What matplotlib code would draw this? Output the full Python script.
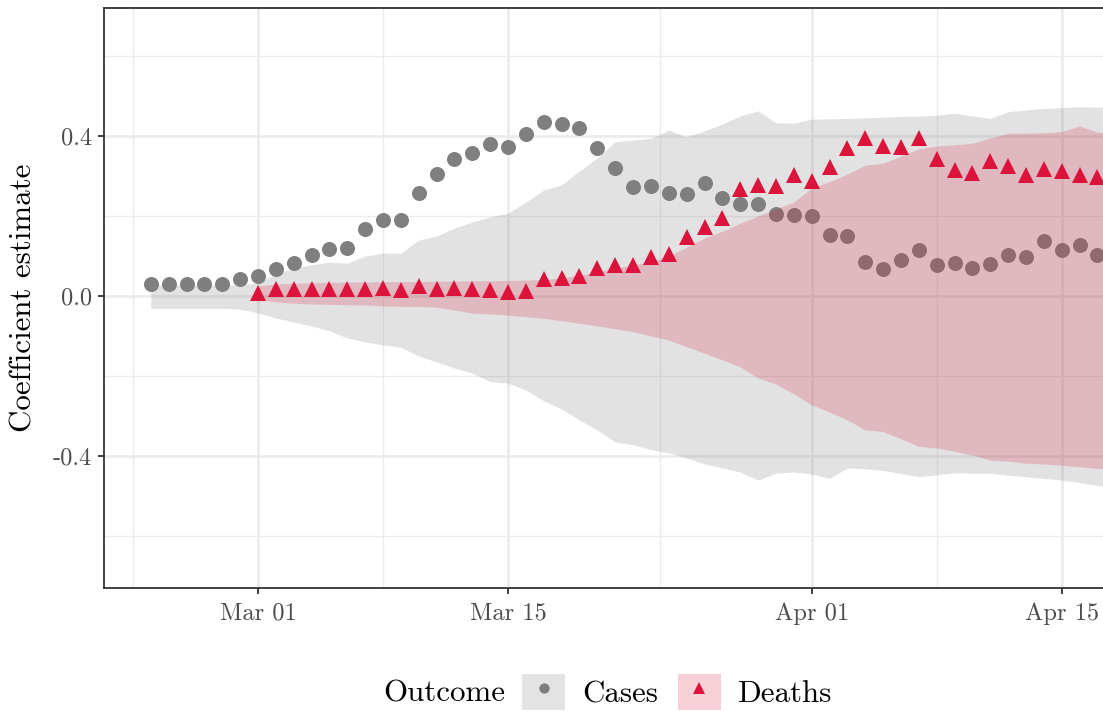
import numpy as np
import matplotlib
matplotlib.use("Agg")
import matplotlib.pyplot as plt
import matplotlib.dates as mdates
from matplotlib.patches import Patch
from matplotlib.lines import Line2D

plt.rcParams['font.family'] = ['cmr10', 'DejaVu Serif']
plt.rcParams['axes.unicode_minus'] = False

# daily estimates, Feb 24 - Apr 17 (cases) and Mar 01 - Apr 17 (deaths)
case_days = np.arange('2020-02-24', '2020-04-18', dtype='datetime64[D]')
death_days = np.arange('2020-03-01', '2020-04-18', dtype='datetime64[D]')
# bands run one day past the visible edge
case_band_days = np.arange('2020-02-24', '2020-04-19', dtype='datetime64[D]')
death_band_days = np.arange('2020-03-01', '2020-04-19', dtype='datetime64[D]')

cases = [0.029, 0.029, 0.029, 0.029, 0.029, 0.043, 0.050, 0.067, 0.083, 0.102,
         0.117, 0.119, 0.167, 0.190, 0.190, 0.257, 0.306, 0.342, 0.358, 0.379,
         0.373, 0.404, 0.435, 0.429, 0.419, 0.369, 0.320, 0.273, 0.275, 0.258,
         0.256, 0.282, 0.244, 0.231, 0.231, 0.206, 0.202, 0.199, 0.153, 0.149,
         0.084, 0.068, 0.091, 0.114, 0.078, 0.083, 0.069, 0.080, 0.102, 0.098,
         0.138, 0.115, 0.127, 0.103]
deaths = [0.008, 0.017, 0.017, 0.017, 0.017, 0.017, 0.017, 0.019, 0.015, 0.024,
          0.018, 0.021, 0.017, 0.016, 0.011, 0.013, 0.042, 0.044, 0.051, 0.070,
          0.078, 0.077, 0.097, 0.106, 0.148, 0.173, 0.195, 0.267, 0.277, 0.276,
          0.303, 0.288, 0.323, 0.369, 0.394, 0.375, 0.373, 0.394, 0.342, 0.316,
          0.308, 0.338, 0.326, 0.303, 0.318, 0.312, 0.303, 0.297]

cases_hi = [0.027, 0.027, 0.027, 0.027, 0.027, 0.028, 0.033, 0.055, 0.070, 0.078,
            0.085, 0.082, 0.100, 0.107, 0.107, 0.140, 0.150, 0.170, 0.185, 0.198,
            0.207, 0.235, 0.265, 0.278, 0.313, 0.345, 0.386, 0.390, 0.394, 0.415,
            0.398, 0.413, 0.430, 0.450, 0.463, 0.433, 0.432, 0.442, 0.443, 0.444,
            0.445, 0.447, 0.449, 0.450, 0.452, 0.457, 0.450, 0.444, 0.461, 0.465,
            0.469, 0.471, 0.473, 0.472, 0.472]
cases_lo = [-0.031, -0.031, -0.031, -0.031, -0.031, -0.033, -0.042, -0.055, -0.065, -0.075,
            -0.087, -0.105, -0.115, -0.122, -0.128, -0.150, -0.165, -0.180, -0.193, -0.214,
            -0.218, -0.235, -0.262, -0.283, -0.310, -0.335, -0.365, -0.372, -0.384, -0.392,
            -0.405, -0.420, -0.430, -0.440, -0.460, -0.443, -0.440, -0.445, -0.456, -0.430,
            -0.432, -0.436, -0.444, -0.452, -0.447, -0.442, -0.443, -0.443, -0.448, -0.452,
            -0.456, -0.460, -0.466, -0.474, -0.478]
deaths_hi = [0.025, 0.030, 0.032, 0.033, 0.034, 0.035, 0.035, 0.036, 0.036, 0.036,
             0.037, 0.037, 0.038, 0.038, 0.039, 0.040, 0.041, 0.045, 0.052, 0.060,
             0.070, 0.078, 0.086, 0.100, 0.122, 0.145, 0.162, 0.182, 0.200, 0.218,
             0.235, 0.270, 0.286, 0.305, 0.327, 0.332, 0.350, 0.368, 0.375, 0.378,
             0.382, 0.395, 0.407, 0.407, 0.408, 0.411, 0.425, 0.410, 0.405]
deaths_lo = [-0.008, -0.015, -0.018, -0.020, -0.021, -0.022, -0.022, -0.025, -0.026, -0.026,
             -0.028, -0.035, -0.043, -0.045, -0.048, -0.052, -0.056, -0.062, -0.068, -0.075,
             -0.082, -0.089, -0.100, -0.110, -0.127, -0.143, -0.160, -0.177, -0.205, -0.220,
             -0.245, -0.272, -0.290, -0.310, -0.335, -0.339, -0.357, -0.376, -0.380, -0.388,
             -0.398, -0.410, -0.413, -0.418, -0.420, -0.423, -0.427, -0.431, -0.433]

grey = '#7F7F7F'
red = '#DC143C'

fig = plt.figure(figsize=(11.03, 7.11), dpi=100)
W, H = 1103, 711
# panel runs past the right edge of the canvas
ax = fig.add_axes([104 / W, (H - 588) / H, (1200 - 104) / W, (588 - 8) / H])

xc = mdates.date2num(case_days)
xd = mdates.date2num(death_days)
ax.fill_between(mdates.date2num(case_band_days), cases_lo, cases_hi,
                color=grey, alpha=0.22, linewidth=0, zorder=1)
ax.plot(xc, cases, 'o', color=grey, markersize=10.8, markeredgewidth=0, zorder=2)
ax.fill_between(mdates.date2num(death_band_days), deaths_lo, deaths_hi,
                color=red, alpha=0.2, linewidth=0, zorder=3)
ax.plot(xd, deaths, '^', color=red, markersize=11.5, markeredgewidth=0, zorder=4)

m1 = mdates.date2num(np.datetime64('2020-03-01'))
ax.set_xlim(m1 - 8.62, m1 + 52.74)
ax.set_ylim(-0.73, 0.72)

major_x = mdates.date2num(np.array(['2020-03-01', '2020-03-15', '2020-04-01', '2020-04-15'],
                                   dtype='datetime64[D]'))
ax.set_xticks(major_x)
ax.xaxis.set_major_formatter(mdates.DateFormatter('%b %d'))
ax.set_xticks([m1 - 7, m1 + 7, m1 + 22.5, m1 + 38], minor=True)
ax.set_yticks([-0.4, 0.0, 0.4])
ax.set_yticklabels(['-0.4', '0.0', '0.4'])
ax.set_yticks([-0.6, -0.2, 0.2, 0.6], minor=True)

ax.grid(which='major', color='#EBEBEB', linewidth=1.9, zorder=0)
ax.grid(which='minor', color='#EBEBEB', linewidth=0.95, zorder=0)
ax.set_axisbelow(True)

for s in ax.spines.values():
    s.set_color('#333333')
    s.set_linewidth(1.3)

ax.tick_params(which='major', length=4.3, width=1.3, color='#333333',
               labelcolor='#4D4D4D', labelsize=17.6, pad=4)
ax.tick_params(axis='x', which='major', pad=6)
ax.tick_params(which='minor', length=0)

ax.set_ylabel('Coefficient estimate', fontsize=22.3)
ax.yaxis.set_label_coords(-0.061, 0.5)

# legend: title on the left, keys in one row
fig.text(383 / W, (H - 702) / H, 'Outcome', fontsize=22.3, va='baseline', ha='left')
handles = [
    (Patch(facecolor='#E3E3E3', edgecolor='none'),
     Line2D([], [], marker='o', color=grey, linestyle='none', markersize=7.4, markeredgewidth=0)),
    (Patch(facecolor='#F8D0D8', edgecolor='none'),
     Line2D([], [], marker='^', color=red, linestyle='none', markersize=8.8, markeredgewidth=0)),
]
F = 22.3 * 100 / 72
fig.legend(handles, ['Cases', 'Deaths'], ncol=2, frameon=False, fontsize=22.3,
           loc='center left', bbox_to_anchor=(522 / W, (H - 692) / H),
           borderpad=0, borderaxespad=0, handlelength=43 / F, handleheight=44 / F,
           handletextpad=17 / F, columnspacing=20 / F)

fig.savefig('out.png', dpi=100)
